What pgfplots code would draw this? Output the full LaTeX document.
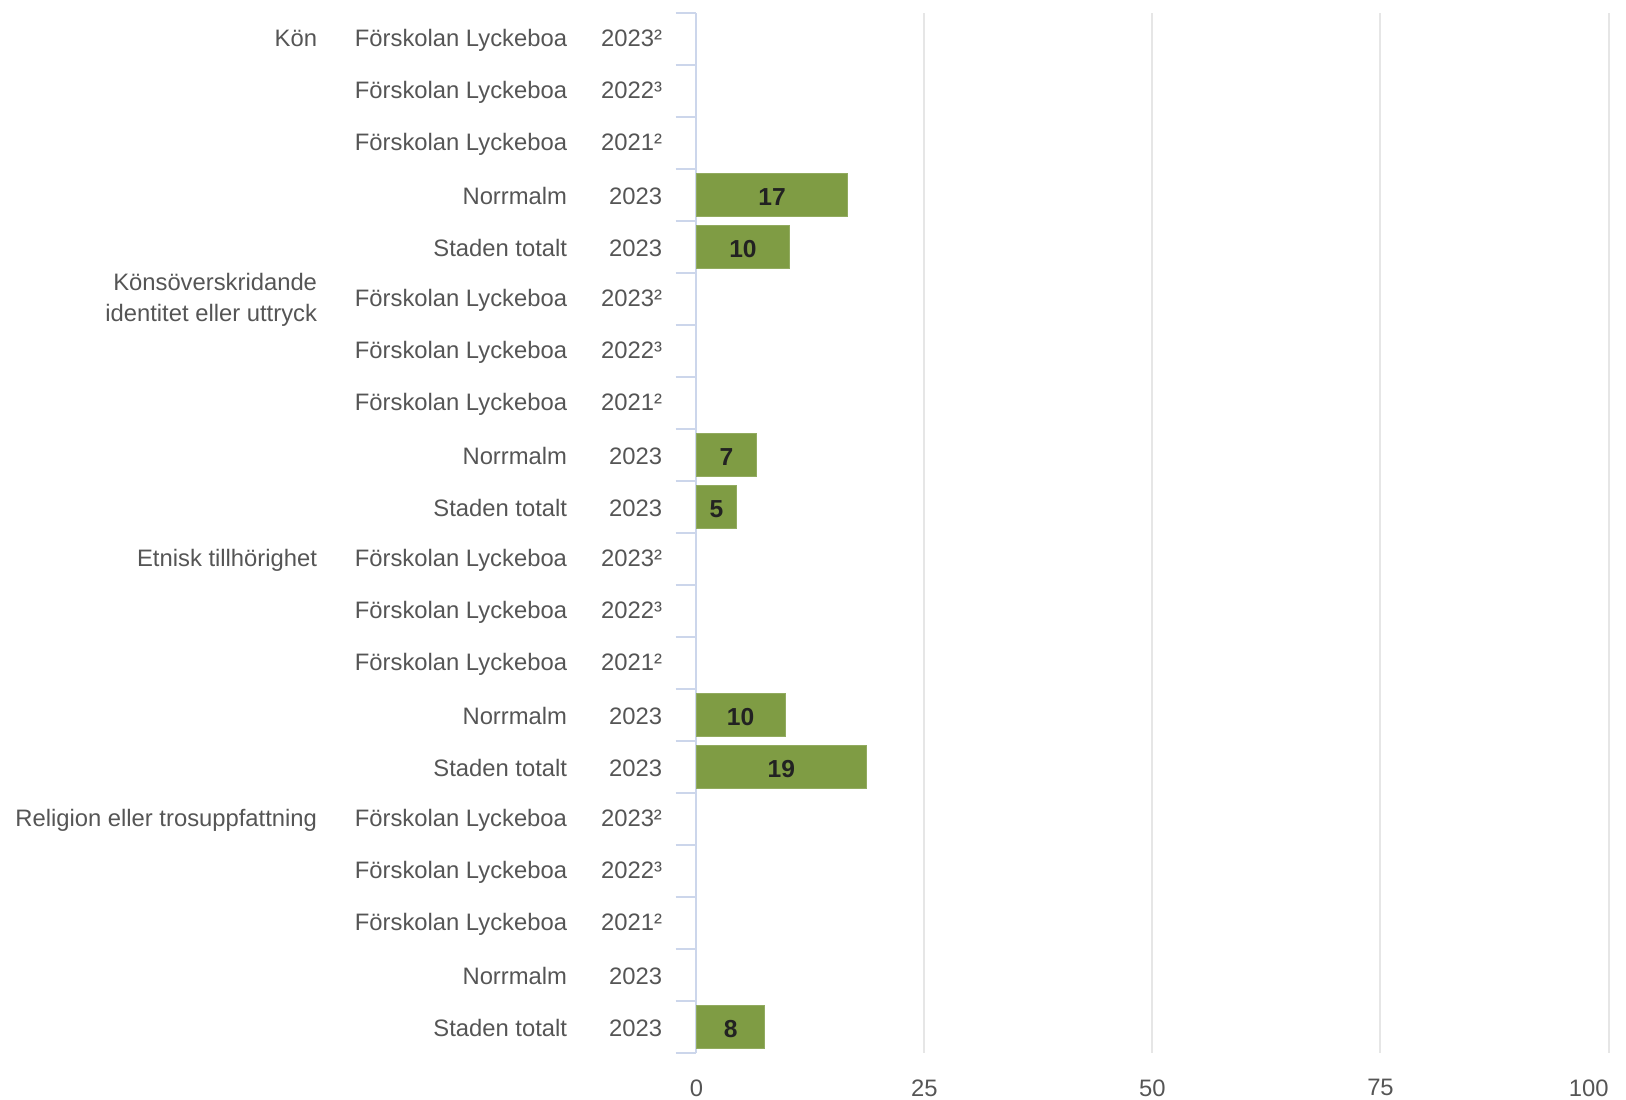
\documentclass[border=0pt]{standalone}
\usepackage{pgfplots}
\pgfplotsset{compat=1.18}
\usepackage{fontspec}
\setmainfont{Liberation Sans}
\definecolor{barc}{HTML}{7F9C44}
\definecolor{axc}{HTML}{CCD6EB}
\definecolor{gridc}{HTML}{E6E6E6}
\definecolor{txt}{HTML}{555555}
\definecolor{lbl}{HTML}{222222}
\newcommand{\rl}[3]{\makebox[0pt][r]{#1}\makebox[125pt][r]{#2}\makebox[47.5pt][r]{#3}}
\newcommand{\kon}{\begin{tabular}{@{}r@{}}Könsöverskridande\\[1.5pt]identitet eller uttryck\end{tabular}\hspace{0pt}}
\begin{document}
\begin{tikzpicture}
\fontsize{11.9}{14}\selectfont
\begin{axis}[
  at={(0,0)}, anchor=south west,
  width=456pt, height=520pt, scale only axis,
  xmin=0, xmax=100, ymin=-0.5, ymax=19.5, y dir=reverse,
  axis lines*=left,
  x axis line style={draw=none},
  y axis line style={draw=axc, line width=1pt},
  xtick={0,25,50,75,100},
  xticklabels={0,25,50,75,\makebox[0pt][r]{100}},
  xmajorgrids, major grid style={draw=gridc, line width=1pt},
  x tick style={draw=none},
  tick align=outside, major tick length=10.4pt,
  ytick={0,...,19},
  y tick style={draw=none},
  extra y ticks={-0.5,0.5,1.5,2.5,3.5,4.5,5.5,6.5,7.5,8.5,9.5,10.5,11.5,12.5,13.5,14.5,15.5,16.5,17.5,18.5,19.5},
  extra y tick labels={},
  extra y tick style={y tick style={draw=axc, line width=1pt}, major grid style={draw=none}},
  yticklabels={
    {\rl{Kön}{Förskolan Lyckeboa}{2023²}},
    {\rl{}{Förskolan Lyckeboa}{2022³}},
    {\rl{}{Förskolan Lyckeboa}{2021²}},
    {\rl{}{Norrmalm}{2023}},
    {\rl{}{Staden totalt}{2023}},
    {\rl{\kon}{Förskolan Lyckeboa}{2023²}},
    {\rl{}{Förskolan Lyckeboa}{2022³}},
    {\rl{}{Förskolan Lyckeboa}{2021²}},
    {\rl{}{Norrmalm}{2023}},
    {\rl{}{Staden totalt}{2023}},
    {\rl{Etnisk tillhörighet}{Förskolan Lyckeboa}{2023²}},
    {\rl{}{Förskolan Lyckeboa}{2022³}},
    {\rl{}{Förskolan Lyckeboa}{2021²}},
    {\rl{}{Norrmalm}{2023}},
    {\rl{}{Staden totalt}{2023}},
    {\rl{Religion eller trosuppfattning}{Förskolan Lyckeboa}{2023²}},
    {\rl{}{Förskolan Lyckeboa}{2022³}},
    {\rl{}{Förskolan Lyckeboa}{2021²}},
    {\rl{}{Norrmalm}{2023}},
    {\rl{}{Staden totalt}{2023}}
  },
  yticklabel style={anchor=east, inner sep=0pt, xshift=-6.6pt, yshift=-0.6pt, text=txt, font=\fontsize{11.9}{14}\selectfont},
  xticklabel style={text=txt, inner sep=0pt, yshift=-2.6pt, font=\fontsize{11.9}{14}\selectfont},
  /pgf/number format/assume math mode=true,
  xbar, bar width=21.8pt, bar shift=0pt,
  clip=false,
]
\addplot[fill=barc, draw=barc!85!white, line width=0.4pt] coordinates {
  (16.6,3) (10.2,4) (6.6,8) (4.4,9) (9.7,13) (18.6,14) (7.5,19)
};
\addplot[draw=none, mark=none, forget plot,
  nodes near coords, point meta=explicit symbolic,
  nodes near coords style={anchor=center, yshift=-1pt, text=lbl, font=\fontsize{12.3}{14}\selectfont\bfseries}]
  coordinates {
  (8.3,3) [17] (5.1,4) [10] (3.3,8) [7] (2.2,9) [5] (4.85,13) [10] (9.3,14) [19] (3.75,19) [8]
};
\end{axis}
\pgfresetboundingbox
\useasboundingbox (-348.2pt,-23pt) rectangle (464.75pt,526.5pt);
\end{tikzpicture}
\end{document}
